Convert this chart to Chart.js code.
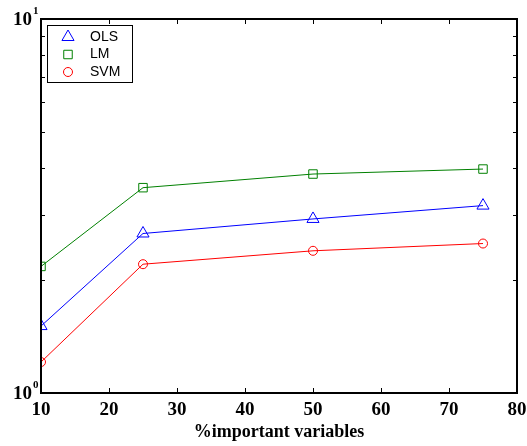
<!DOCTYPE html>
<html>
<head>
<meta charset="utf-8">
<script src="https://cdn.jsdelivr.net/npm/chart.js@4"></script>
<style>
  html, body { margin: 0; padding: 0; background: #fff; }
  #wrap { width: 527px; height: 446px; }
</style>
</head>
<body>
<div id="wrap"><canvas id="errChart" width="527" height="446"></canvas></div>
<script>
// % of important variables
var pctImportant = [10, 25, 50, 75];
// error per method
var olsErr = [1.51, 2.67, 2.92, 3.17];
var lmErr  = [2.18, 3.54, 3.85, 3.97];
var svmErr = [1.21, 2.21, 2.40, 2.51];
var xTicks = [10, 20, 30, 40, 50, 60, 70, 80];
var yMinor = [2, 3, 4, 5, 6, 7, 8, 9];

var serifFamily = '"Liberation Serif", "Times New Roman", serif';

function toPoints(vals) {
  return pctImportant.map(function(x, i) { return { x: x, y: vals[i] }; });
}

function series(label, color, style, radius, vals) {
  return {
    label: label,
    data: toPoints(vals),
    borderColor: color,
    borderWidth: 1,
    pointStyle: style,
    pointRadius: radius,
    pointHoverRadius: radius,
    pointBorderColor: color,
    pointBackgroundColor: 'rgba(0,0,0,0)',
    pointBorderWidth: 1,
    tension: 0,
    fill: false
  };
}

// box, inward ticks, y labels and legend
var framePlugin = {
  id: 'frame',
  afterDraw: function(chart) {
    var ctx = chart.ctx;
    var a = chart.chartArea;
    var xs = chart.scales.x, ys = chart.scales.y;
    ctx.save();
    ctx.strokeStyle = '#000';
    ctx.lineWidth = 1;
    xTicks.forEach(function(v) {
      var px = Math.round(xs.getPixelForValue(v)) + 0.5;
      ctx.beginPath();
      ctx.moveTo(px, a.bottom); ctx.lineTo(px, a.bottom - 5);
      ctx.moveTo(px, a.top); ctx.lineTo(px, a.top + 5);
      ctx.stroke();
    });
    yMinor.forEach(function(v) {
      var py = Math.round(ys.getPixelForValue(v)) + 0.5;
      ctx.beginPath();
      ctx.moveTo(a.left, py); ctx.lineTo(a.left + 4, py);
      ctx.moveTo(a.right, py); ctx.lineTo(a.right - 4, py);
      ctx.stroke();
    });
    ctx.lineWidth = 2;
    ctx.strokeRect(a.left, a.top, a.right - a.left, a.bottom - a.top);

    // 10^0 and 10^1
    ctx.fillStyle = '#000';
    [[1, '0'], [10, '1']].forEach(function(t) {
      var py = ys.getPixelForValue(t[0]);
      ctx.font = 'bold 19px ' + serifFamily;
      ctx.textAlign = 'right';
      ctx.textBaseline = 'middle';
      ctx.fillText('10', a.left - 9, py + 1);
      ctx.font = 'bold 11px ' + serifFamily;
      ctx.textAlign = 'left';
      ctx.fillText(t[1], a.left - 8, py - 8);
    });

    // legend
    var lx = a.left + 6, ly = a.top + 6, lw = 85, lh = 57;
    ctx.fillStyle = '#fff';
    ctx.fillRect(lx, ly, lw, lh);
    ctx.lineWidth = 1;
    ctx.strokeStyle = '#000';
    ctx.strokeRect(lx + 0.5, ly + 0.5, lw, lh);
    ctx.font = '14px "Liberation Sans", Arial, sans-serif';
    ctx.textAlign = 'left';
    ctx.textBaseline = 'middle';
    chart.data.datasets.forEach(function(ds, i) {
      var cy = ly + 12 + i * 17.5;
      ctx.strokeStyle = ds.borderColor;
      ctx.fillStyle = 'rgba(0,0,0,0)';
      ctx.lineWidth = 1;
      Chart.helpers.drawPoint(ctx, {
        pointStyle: ds.pointStyle, radius: ds.pointRadius, borderWidth: 1, rotation: 0
      }, lx + 21, cy);
      ctx.fillStyle = '#000';
      ctx.fillText(ds.label, lx + 43, cy);
    });
    ctx.restore();
  }
};

new Chart(document.getElementById('errChart'), {
  type: 'line',
  data: {
    datasets: [
      series('OLS', '#0000ff', 'triangle', 7, olsErr),
      series('LM', '#008000', 'rect', 6, lmErr),
      series('SVM', '#ff0000', 'circle', 4.5, svmErr)
    ]
  },
  options: {
    responsive: false,
    animation: false,
    events: [],
    layout: { padding: { top: 19, right: 10, left: 0, bottom: 0 } },
    plugins: { legend: { display: false }, tooltip: { enabled: false } },
    scales: {
      x: {
        type: 'linear',
        min: 10,
        max: 80,
        grid: { display: false, drawTicks: false },
        border: { display: false },
        afterBuildTicks: function(scale) {
          scale.ticks = xTicks.map(function(v) { return { value: v }; });
        },
        ticks: {
          color: '#000',
          padding: 6,
          maxRotation: 0,
          font: { family: serifFamily, size: 19, weight: 'bold' }
        },
        title: {
          display: true,
          text: '%important variables',
          color: '#000',
          padding: { top: 0, bottom: 3 },
          font: { family: serifFamily, size: 18, weight: 'bold' }
        },
        afterFit: function(scale) {
          scale.height = 53;
          scale.paddingLeft = 0;
          scale.paddingRight = 0;
        }
      },
      y: {
        type: 'logarithmic',
        min: 1,
        max: 10,
        grid: { display: false, drawTicks: false },
        border: { display: false },
        ticks: { display: false },
        afterFit: function(scale) {
          scale.width = 41;
          scale.paddingTop = 0;
          scale.paddingBottom = 0;
        }
      }
    }
  },
  plugins: [framePlugin]
});
</script>
</body>
</html>
